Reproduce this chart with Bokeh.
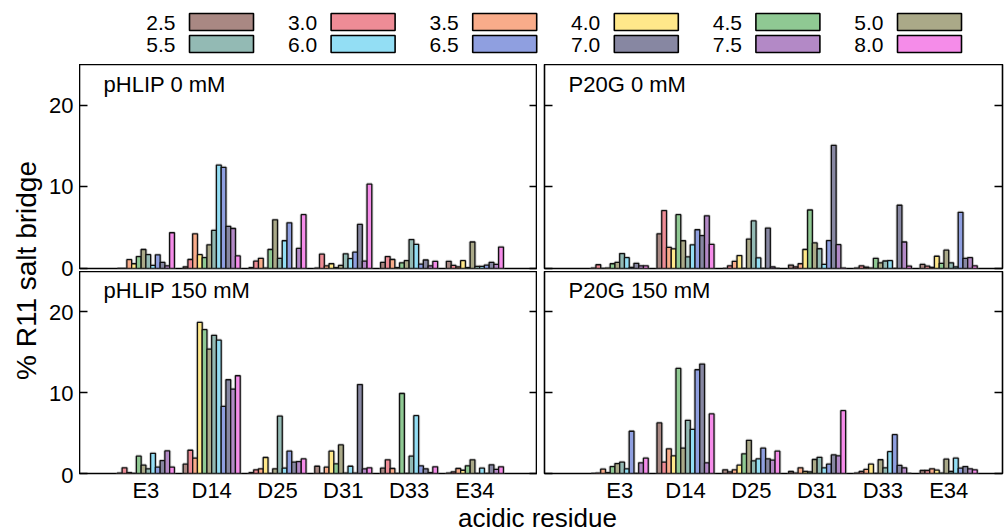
from bokeh.plotting import figure
from bokeh.models import Range1d, LinearAxis, FixedTicker, Label, ColumnDataSource
from bokeh.layouts import row, column
from bokeh.embed import file_html
from bokeh.resources import INLINE
from bokeh.core.properties import value

# ---- data -------------------------------------------------------------
residues = ["E3", "D14", "D25", "D31", "D33", "E34"]
ph_labels = ["2.5", "3.0", "3.5", "4.0", "4.5", "5.0",
             "5.5", "6.0", "6.5", "7.0", "7.5", "8.0"]
ph_colors = ["#a98883", "#ee8c96", "#f9ac8a", "#ffe88a", "#8fc993", "#aaa988",
             "#93bab4", "#93def4", "#8f9fe0", "#8787a2", "#b389c6", "#f58ce9"]
y_ticks = [0, 10, 20]

# % R11 salt bridge, one row per residue, one value per pH (2.5 ... 8.0)
phlip_0mM = [
    [0.0, 0.0, 1.08, 0.58, 1.46, 2.33, 1.70, 0.38, 1.67, 0.75, 0.33, 4.38],
    [0.20, 1.10, 4.25, 1.70, 1.33, 2.90, 4.67, 12.67, 12.40, 5.17, 4.90, 1.54],
    [0.10, 0.90, 1.25, 0.05, 2.33, 5.96, 1.25, 3.40, 5.60, 0.0, 2.46, 6.60],
    [0.05, 1.75, 0.33, 0.58, 0.10, 0.38, 1.80, 1.20, 2.00, 5.40, 0.90, 10.33],
    [0.75, 1.46, 1.10, 0.10, 0.70, 0.96, 3.54, 2.96, 0.54, 1.04, 0.33, 0.88],
    [0.88, 0.38, 0.20, 0.96, 0.10, 3.25, 0.25, 0.25, 0.42, 0.75, 0.50, 2.63],
]
p20g_0mM = [
    [0.05, 0.46, 0.0, 0.05, 0.58, 0.75, 1.83, 1.33, 0.15, 0.63, 0.33, 0.33],
    [4.25, 7.10, 2.60, 2.40, 6.60, 3.40, 1.42, 2.90, 4.75, 4.04, 6.46, 2.96],
    [0.0, 0.33, 0.88, 1.58, 0.0, 3.60, 5.83, 1.30, 0.0, 4.96, 0.20, 0.0],
    [0.42, 0.20, 0.58, 2.33, 7.17, 3.13, 2.42, 0.50, 3.42, 15.10, 2.92, 0.05],
    [0.05, 0.33, 0.17, 0.05, 1.25, 0.70, 0.92, 0.96, 0.0, 7.75, 3.25, 0.30],
    [0.50, 0.30, 0.12, 1.50, 0.63, 2.25, 0.70, 0.20, 6.88, 1.25, 1.33, 0.33],
]
phlip_150mM = [
    [0.05, 0.70, 0.10, 0.0, 2.14, 1.03, 0.58, 2.50, 0.78, 1.60, 2.80, 0.78],
    [1.15, 2.88, 1.90, 18.70, 17.80, 15.40, 17.10, 16.50, 8.30, 11.60, 10.45, 12.10],
    [0.10, 0.45, 0.58, 1.98, 0.0, 0.58, 7.10, 0.66, 2.76, 1.40, 1.48, 1.80],
    [0.90, 0.0, 0.78, 2.76, 1.20, 3.54, 0.05, 0.90, 0.05, 11.00, 0.58, 0.70],
    [0.66, 1.69, 0.62, 0.0, 9.90, 0.0, 2.14, 7.16, 0.95, 0.58, 0.10, 0.82],
    [0.05, 0.20, 0.62, 0.40, 0.95, 1.69, 0.0, 0.66, 0.0, 1.07, 0.50, 0.82],
]
p20g_150mM = [
    [0.0, 0.05, 0.53, 0.10, 0.86, 1.23, 1.40, 0.58, 5.23, 0.0, 1.32, 1.90],
    [6.26, 1.40, 3.05, 2.18, 13.00, 3.13, 6.58, 5.47, 12.84, 13.54, 1.32, 7.37],
    [0.45, 0.20, 0.45, 1.03, 2.43, 4.10, 1.56, 1.80, 3.13, 1.80, 1.65, 2.76],
    [0.25, 0.05, 0.70, 0.25, 0.20, 1.73, 2.00, 0.70, 1.15, 2.30, 2.18, 7.78],
    [0.05, 0.25, 0.50, 1.15, 0.0, 1.70, 0.70, 2.70, 4.80, 1.00, 0.70, 0.0],
    [0.37, 0.37, 0.58, 0.41, 0.05, 1.77, 0.25, 1.90, 0.66, 0.86, 0.58, 0.45],
]

# ---- geometry & styling ----------------------------------------------
FONT = "Liberation Sans"
BAR_W = 0.0722
FRAME_W, FRAME_H = 458, 204
Y_MAX = 25
PX_PER_UNIT = FRAME_H / Y_MAX
ROW_GAP = 3          # space between the upper and lower panels
BOTTOM_PAD = 30      # room for the residue names
LEG_H = 64
YCOL_W = 79          # column holding the y title and the tick numbers
PAGE_W, PAGE_H = 1005, 531


def bar_source(values):
    xs, tops, cols = [], [], []
    for g, group in enumerate(values):
        for k, v in enumerate(group):
            xs.append(g + 1 + (k - 5.5) * BAR_W)
            tops.append(v)
            cols.append(ph_colors[k])
    return ColumnDataSource(dict(x=xs, top=tops, color=cols))


def tick_only_axis():
    # inward tick marks without labels
    return LinearAxis(ticker=FixedTicker(ticks=[], minor_ticks=y_ticks),
                      major_tick_in=0, major_tick_out=0,
                      minor_tick_in=8, minor_tick_out=0,
                      minor_tick_line_width=1.5, minor_tick_line_color="black",
                      axis_line_color=None, major_label_standoff=0)


def panel(values, title, left_col, bottom_row):
    bl = 0 if left_col else 7
    br = 0 if left_col else 3
    bb = BOTTOM_PAD if bottom_row else ROW_GAP
    x0 = -0.009 if left_col else -0.143
    p = figure(width=bl + FRAME_W + br, height=FRAME_H + bb,
               x_range=Range1d(x0, x0 + FRAME_W / 65.8),
               y_range=Range1d(0, Y_MAX),
               x_axis_location="below", y_axis_location=None,
               output_backend="svg", toolbar_location=None,
               min_border_left=bl, min_border_right=br,
               min_border_top=0, min_border_bottom=bb)
    p.grid.visible = False
    p.outline_line_color = "black"
    p.outline_line_width = 1.6
    p.background_fill_color = "white"
    p.border_fill_color = "white"

    src = bar_source(values)
    # soft grey halo around each bar, then the bar itself
    p.vbar(x="x", top="top", bottom=0, width=BAR_W, source=src,
           fill_color=None, line_color="#9a9a9a", line_alpha=0.45, line_width=3.2)
    p.vbar(x="x", top="top", bottom=0, width=BAR_W, source=src,
           fill_color="color", line_color="#111111", line_width=1.3)

    # x axis: residue names, no tick marks
    xa = p.xaxis[0]
    xa.ticker = FixedTicker(ticks=list(range(1, len(residues) + 1)))
    xa.major_label_overrides = {i + 1: r for i, r in enumerate(residues)}
    xa.major_tick_in = 0
    xa.major_tick_out = 0
    xa.minor_tick_in = 0
    xa.minor_tick_out = 0
    xa.axis_line_color = None
    xa.major_label_text_font = FONT
    xa.major_label_text_font_size = "22px"
    xa.major_label_text_color = "black"
    xa.major_label_standoff = 4
    xa.visible = bottom_row

    # inward ticks on both sides of every panel
    p.add_layout(tick_only_axis(), "left")
    p.add_layout(tick_only_axis(), "right")

    p.add_layout(Label(x=x0 + 0.365, y=22.6, text=title,
                       text_font=FONT, text_font_size="22px",
                       text_color="black", text_baseline="middle",
                       text_align="left"))
    return p


tl = panel(phlip_0mM, "pHLIP 0 mM", True, False)
tr = panel(p20g_0mM, "P20G 0 mM", False, False)
bl_ = panel(phlip_150mM, "pHLIP 150 mM", True, True)
br_ = panel(p20g_150mM, "P20G 150 mM", False, True)


def blank(w, h, xr, yr):
    f = figure(width=w, height=h, x_range=Range1d(*xr), y_range=Range1d(*yr),
               output_backend="svg", toolbar_location=None, min_border=0)
    f.axis.visible = False
    f.grid.visible = False
    f.outline_line_color = None
    f.background_fill_color = None
    f.border_fill_color = "white"
    return f


# legend: label to the left of each swatch, 6 columns x 2 rows
leg = blank(PAGE_W, LEG_H, (0, PAGE_W), (LEG_H, 0))
n_cols = 6
lx = [189 + 141.6 * (i % n_cols) for i in range(len(ph_labels))]
ly = [13 + 22 * (i // n_cols) for i in range(len(ph_labels))]
leg.quad(left=lx, right=[v + 64 for v in lx], top=ly, bottom=[v + 17 for v in ly],
         fill_color=ph_colors, line_color="black", line_width=1.6)
leg.text(x=[v - 14 for v in lx], y=[v + 9 for v in ly], text=ph_labels,
         text_font=value(FONT), text_font_size="21px", text_color="black",
         text_align="right", text_baseline="middle")

# y column: one shared scale running through both panel rows (upper-panel units),
# carrying the tick numbers of both panels and the y title
ycol_h = tl.height + bl_.height
lower_offset = 25.375                    # (FRAME_H + ROW_GAP) / PX_PER_UNIT, rounded
yframe_h = 412                           # frame centred on the panel block
ycol = figure(width=YCOL_W, height=ycol_h,
              x_range=Range1d(0, 1),
              y_range=Range1d(Y_MAX - yframe_h / PX_PER_UNIT, Y_MAX),
              x_axis_location=None, y_axis_location=None,
              output_backend="svg", toolbar_location=None,
              min_border_left=YCOL_W - 1, min_border_right=0,
              min_border_top=0, min_border_bottom=ycol_h - yframe_h)
ycol.grid.visible = False
ycol.outline_line_color = None
ycol.background_fill_color = None
ycol.border_fill_color = "white"
tick_pos = list(y_ticks) + [t - lower_offset for t in y_ticks]
tick_txt = {pos: str(t) for pos, t in zip(tick_pos, y_ticks + y_ticks)}
yax = LinearAxis(ticker=FixedTicker(ticks=tick_pos),
                 major_label_overrides=tick_txt,
                 major_tick_in=0, major_tick_out=0,
                 minor_tick_in=0, minor_tick_out=0,
                 axis_line_color=None,
                 major_label_text_font=FONT,
                 major_label_text_font_size="22px",
                 major_label_text_color="black",
                 major_label_standoff=5,
                 axis_label="% R11 salt bridge",
                 axis_label_text_font=FONT,
                 axis_label_text_font_size="28px",
                 axis_label_text_font_style="normal",
                 axis_label_text_color="black",
                 axis_label_standoff=4)
ycol.add_layout(yax, "left")

xlab_h = PAGE_H - LEG_H - ycol_h
xlab = blank(PAGE_W, xlab_h, (0, PAGE_W), (0, xlab_h))
xlab.add_layout(Label(x=537, y=14, text="acidic residue",
                      text_font=FONT, text_font_size="26px", text_color="black",
                      text_align="center", text_baseline="middle"))

grid = column(row(tl, tr, spacing=0), row(bl_, br_, spacing=0), spacing=0)
layout = column(leg, row(ycol, grid, spacing=0), xlab, spacing=0)

open("out.html", "w").write(file_html(layout, INLINE))
